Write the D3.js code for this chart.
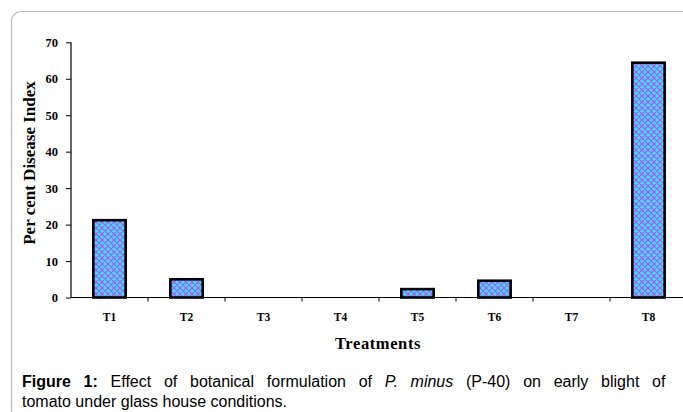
<!DOCTYPE html>
<html><head><meta charset="utf-8">
<script src="https://cdn.jsdelivr.net/npm/d3@7"></script>
<style>body{margin:0;background:#fff;}svg{display:block;}</style>
</head><body>
<svg id="c" width="683" height="412"></svg>
<script>
const categories = ["T1","T2","T3","T4","T5","T6","T7","T8"];
const values = [21.2, 5.0, 0, 0, 2.3, 4.6, 0, 64.4];
const yTicks = [0,10,20,30,40,50,60,70];

const svg = d3.select("#c");
const defs = svg.append("defs");
const pat = defs.append("pattern").attr("id","hatch").attr("patternUnits","userSpaceOnUse")
  .attr("width",6).attr("height",6);
pat.append("rect").attr("width",6).attr("height",6).attr("fill","#10f4ff");
pat.append("path").attr("d","M0,0L6,6M6,0L0,6M-1,5L1,7M5,-1L7,1M-1,1L1,-1M5,7L7,5")
  .attr("stroke","#f030f8").attr("stroke-width",1.1);

// frame
svg.append("rect").attr("x",11.5).attr("y",11.5).attr("width",720).attr("height",450)
  .attr("rx",10).attr("fill","none").attr("stroke","#bbbbbb").attr("stroke-width",1.2);

const x = d3.scaleBand().domain(categories).range([71,687]).paddingInner(0.58).paddingOuter(0.29);
const y = d3.scaleLinear().domain([0,70]).range([297.5,42.3]);

const g = svg.append("g");
g.selectAll("rect.bar").data(values).join("rect").attr("class","bar")
  .attr("x",(d,i)=>x(categories[i])).attr("width",x.bandwidth())
  .attr("y",d=>y(d)).attr("height",d=>y(0)-y(d))
  .style("display",d=>d>0?null:"none")
  .attr("fill","url(#hatch)").attr("stroke","#000").attr("stroke-width",2.6);

// y axis
const ya = svg.append("g").attr("transform","translate(71,0)")
  .call(d3.axisLeft(y).tickValues(yTicks).tickSize(5).tickPadding(8));
ya.select(".domain").attr("stroke","#000").attr("stroke-width",1.2).attr("d","M0,"+y(70)+"V"+y(0));
ya.selectAll("line").attr("stroke","#000").attr("stroke-width",1);
ya.selectAll("text").attr("font-family","'Liberation Serif', serif").attr("font-weight","bold")
  .attr("font-size",12.5).attr("fill","#000");

// x axis
const xa = svg.append("g").attr("transform","translate(0,"+y(0)+")");
xa.append("line").attr("x1",71).attr("x2",687).attr("stroke","#000").attr("stroke-width",1.2);
const step = x.step();
xa.selectAll("line.tk").data(d3.range(1,9)).join("line").attr("class","tk")
  .attr("x1",i=>71+i*step).attr("x2",i=>71+i*step).attr("y1",0).attr("y2",4)
  .attr("stroke","#000").attr("stroke-width",1);
xa.selectAll("text").data(categories).join("text")
  .attr("x",d=>x(d)+x.bandwidth()/2).attr("y",23)
  .attr("text-anchor","middle").attr("font-family","'Liberation Serif', serif")
  .attr("font-weight","bold").attr("font-size",11.5).attr("fill","#000").text(d=>d);

// titles
svg.append("text").attr("transform","translate(35,163) rotate(-90)")
  .attr("text-anchor","middle").attr("font-family","'Liberation Serif', serif")
  .attr("font-weight","bold").attr("font-size",17).attr("fill","#000").text("Per cent Disease Index");
svg.append("text").attr("x",378).attr("y",349).attr("text-anchor","middle")
  .attr("font-family","'Liberation Serif', serif").attr("font-weight","bold")
  .attr("font-size",16.5).attr("letter-spacing",0.6).attr("fill","#000").text("Treatments");

// caption
const cap = svg.append("text").attr("x",22).attr("y",387)
  .attr("font-family","'Liberation Sans', Arial, sans-serif").attr("font-size",16).attr("fill","#000");
cap.append("tspan").attr("font-weight","bold").text("Figure 1:");
cap.append("tspan").text(" Effect of botanical formulation of ");
cap.append("tspan").attr("font-style","italic").text("P. minus");
cap.append("tspan").text(" (P-40) on early blight of");
const target = 644;
let ws = 0;
for (let k = 0; k < 4; k++) {
  cap.attr("word-spacing", ws);
  const bb = cap.node().getBBox();
  ws += (target - bb.width) / 12;
  if (ws < 0) ws = 0;
}
cap.attr("word-spacing", ws);
svg.append("text").attr("x",22).attr("y",407)
  .attr("font-family","'Liberation Sans', Arial, sans-serif").attr("font-size",16).attr("fill","#000")
  .text("tomato under glass house conditions.");
</script>
</body></html>
